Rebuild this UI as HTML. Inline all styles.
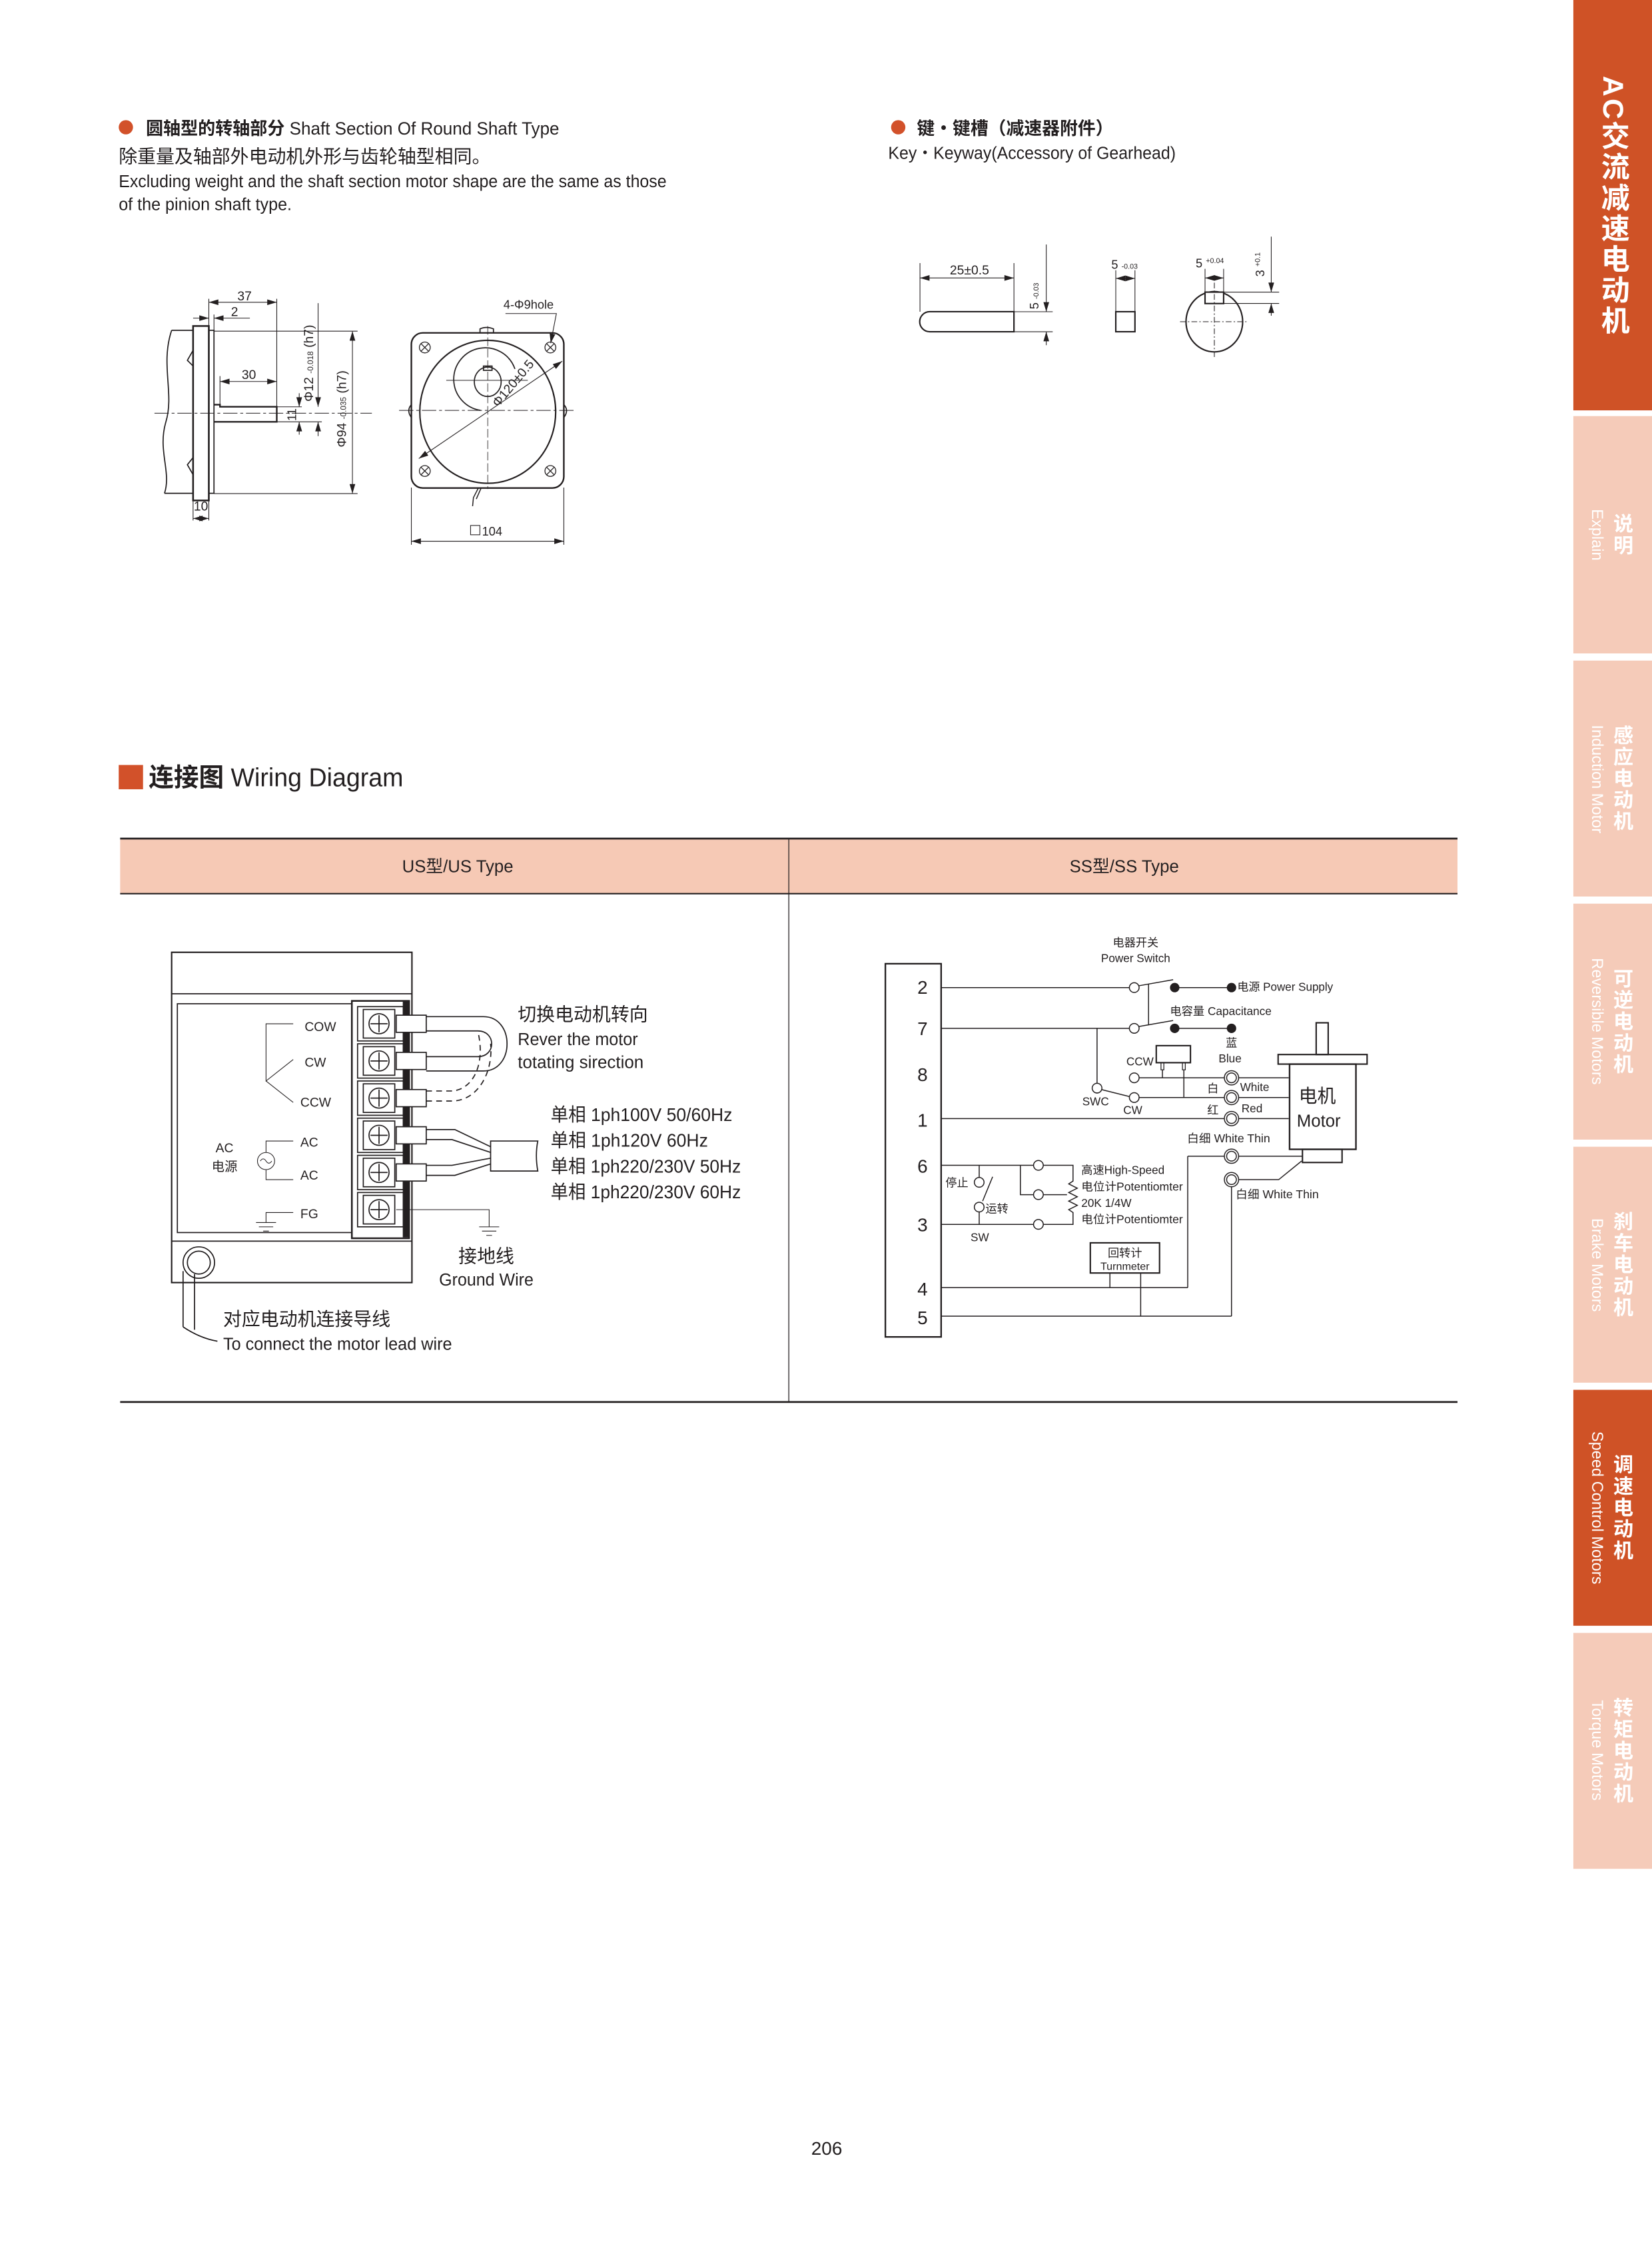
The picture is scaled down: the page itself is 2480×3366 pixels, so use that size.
<!DOCTYPE html>
<html><head><meta charset="utf-8">
<style>
html,body{margin:0;padding:0;background:#fff;}
body{width:2480px;height:3366px;overflow:hidden;position:relative;}
#pg{position:absolute;left:0;top:0;width:1155px;height:1568px;transform:scale(2.1472,2.1467);transform-origin:0 0;
font-family:"Liberation Sans Narrow","Liberation Sans","Noto Sans CJK SC",sans-serif;}
svg text{font-family:"Liberation Sans Narrow","Liberation Sans","Noto Sans CJK SC",sans-serif;fill:#231f20;}
.tab{position:absolute;left:1100px;width:55px;background:#f5cbb9;display:flex;justify-content:center;align-items:center;flex-direction:row-reverse;gap:3px;}
.tab.on{background:#cf5226;}
.zh{writing-mode:vertical-rl;color:#fff;font-weight:bold;font-size:14px;font-family:"Liberation Sans","Noto Sans CJK SC",sans-serif;letter-spacing:1px;}
.en{writing-mode:vertical-rl;color:#fff;font-size:11px;font-family:"Liberation Sans",sans-serif;}
</style></head><body><div id="pg">
<svg width="1155" height="1568" viewBox="0 0 1155 1568" style="position:absolute;left:0;top:0">
<defs>
<marker id="a" viewBox="0 0 10 6" refX="10" refY="3" markerWidth="7" markerHeight="4" orient="auto-start-reverse" markerUnits="userSpaceOnUse"><path d="M0,0L10,3L0,6z" fill="#231f20"/></marker>
</defs>
<circle cx="88" cy="89" r="5" fill="#d2512a"/>
<circle cx="628" cy="89" r="5" fill="#d2512a"/>
<text x="102" y="94" font-size="12.5" textLength="289" lengthAdjust="spacingAndGlyphs"><tspan font-weight="bold" font-family="Liberation Sans,Noto Sans CJK SC,sans-serif">圆轴型的转轴部分</tspan> Shaft Section Of Round Shaft Type</text>
<text x="83" y="114" font-size="13">除重量及轴部外电动机外形与齿轮轴型相同。</text>
<text x="83" y="131" font-size="12" textLength="383" lengthAdjust="spacingAndGlyphs">Excluding weight and the shaft section motor shape are the same as those</text>
<text x="83" y="147" font-size="12" textLength="121" lengthAdjust="spacingAndGlyphs">of the pinion shaft type.</text>
<text x="641" y="94" font-size="12.5" font-weight="bold" font-family="Liberation Sans,Noto Sans CJK SC,sans-serif">键・键槽（减速器附件）</text>
<text x="621" y="111" font-size="12" textLength="201" lengthAdjust="spacingAndGlyphs">Key・Keyway(Accessory of Gearhead)</text>

<g stroke="#231f20" fill="none" stroke-width="0.8">
<path d="M120,231 L135,231 M115,345 L135,345 M120,231 C112,255 122,275 116,295 C110,315 120,330 115,345"/>
<rect x="135" y="228" width="11" height="122" stroke-width="1.2"/>
<rect x="146" y="231" width="3.6" height="114"/>
<path d="M135,245 L131,252 L135,256 M135,320 L131,325 L135,332"/>
<path d="M149.6,283 L153.8,283 L153.8,284.5 L193.5,284.5 L193.5,295 L149.6,295" stroke-width="1.1"/>
<path d="M108,289 L260,289" stroke-dasharray="10,2,2,2" stroke-width="0.5"/>
<path d="M146,209 L146,228 M149.6,220 L149.6,231 M193.5,209 L193.5,284 M153.8,263 L153.8,283" stroke-width="0.5"/>
<path d="M146,211.4 L193.5,211.4" marker-start="url(#a)" marker-end="url(#a)" stroke-width="0.5"/>
<path d="M135,222.5 L146,222.5" marker-end="url(#a)" stroke-width="0.5"/>
<path d="M174.7,222.5 L149.6,222.5" marker-end="url(#a)" stroke-width="0.5"/>
<path d="M153.8,266.8 L193.5,266.8" marker-start="url(#a)" marker-end="url(#a)" stroke-width="0.5"/>
<path d="M193.5,284.5 L211,284.5 M193.5,295 L225,295" stroke-width="0.5"/>
<path d="M209.2,275 L209.2,284.5" marker-end="url(#a)" stroke-width="0.5"/>
<path d="M209.2,304 L209.2,295" marker-end="url(#a)" stroke-width="0.5"/>
<path d="M222.4,212 L222.4,284.5" marker-end="url(#a)" stroke-width="0.5"/>
<path d="M222.4,305 L222.4,295" marker-end="url(#a)" stroke-width="0.5"/>
<path d="M149.6,231.6 L250,231.6 M149.6,345.2 L250,345.2" stroke-width="0.5"/>
<path d="M246.4,231.6 L246.4,345.2" marker-start="url(#a)" marker-end="url(#a)" stroke-width="0.5"/>
<path d="M135,350 L135,364 M146,350 L146,364" stroke-width="0.5"/>
<path d="M135,362.6 L146,362.6" marker-start="url(#a)" marker-end="url(#a)" stroke-width="0.5"/>
</g>
<text x="171" y="210" font-size="9" text-anchor="middle">37</text>
<text x="164" y="221" font-size="9" text-anchor="middle">2</text>
<text x="174" y="265" font-size="9" text-anchor="middle">30</text>
<text x="140.5" y="357" font-size="9" text-anchor="middle">10</text>
<text transform="translate(207,290) rotate(-90)" font-size="8.5" text-anchor="middle">11</text>
<text transform="translate(219,254) rotate(-90)" font-size="9" text-anchor="middle">Φ12 <tspan font-size="5.5">-0.018</tspan> (h7)</text>
<text transform="translate(242,286) rotate(-90)" font-size="9" text-anchor="middle">Φ94 <tspan font-size="5.5">-0.035</tspan> (h7)</text>

<g stroke="#231f20" fill="none" stroke-width="0.8">
<rect x="287.6" y="232.8" width="106.6" height="108.5" rx="8" stroke-width="1.1"/>
<path d="M335.6,232.8 L335.6,230 Q340,228 345,230 L345,232.8"/>
<path d="M287.6,283 Q284,287 287.6,292 M394.2,283 Q398,287 394.2,292"/>
<ellipse cx="341" cy="288" rx="47.5" ry="50" stroke-width="1"/>
<path d="M336,287 A22,22 0 1 1 360,258" />
<ellipse cx="341" cy="267" rx="9.4" ry="10.3"/>
<rect x="338" y="256" width="6" height="3"/>
<path d="M312,266 L369,266" stroke-width="0.5"/>
<path d="M279,287 L401,287" stroke-dasharray="10,2,2,2" stroke-width="0.5"/>
<path d="M341,228 L341,342" stroke-dasharray="6,2" stroke-width="0.4"/>
<g stroke-width="0.6">
<circle cx="297" cy="243" r="3.8"/><circle cx="384.8" cy="243" r="3.8"/>
<circle cx="297" cy="329.4" r="3.8"/><circle cx="384.8" cy="329.4" r="3.8"/>
<path d="M294.3,240.3l5.4,5.4M299.7,240.3l-5.4,5.4M382.1,240.3l5.4,5.4M387.5,240.3l-5.4,5.4M294.3,326.7l5.4,5.4M299.7,326.7l-5.4,5.4M382.1,326.7l5.4,5.4M387.5,326.7l-5.4,5.4"/>
</g>
<path d="M292.8,320.7 L393.1,252.6" marker-start="url(#a)" marker-end="url(#a)" stroke-width="0.5"/>
<path d="M353.4,219.3 L389,219.3 L385,240" marker-end="url(#a)" stroke-width="0.5"/>
<path d="M334.6,341 L331,348 L330.4,354 M336.5,341 L333,349" stroke-width="0.7"/>
<path d="M287.6,341 L287.6,381 M394.2,341 L394.2,381" stroke-width="0.5"/>
<path d="M287.6,378.5 L394.2,378.5" marker-start="url(#a)" marker-end="url(#a)" stroke-width="0.5"/>
<rect x="329" y="367.5" width="6.5" height="6.5" stroke-width="0.5"/>
</g>
<text x="352" y="216" font-size="8.5">4-Φ9hole</text>
<text transform="translate(361,270) rotate(-50)" font-size="9" text-anchor="middle">Φ120±0.5</text>
<text x="337" y="374.5" font-size="8.5">104</text>

<g stroke="#231f20" fill="none" stroke-width="0.5">
<path d="M708.9,218 L650,218 A7,7 0 0 0 650,232 L708.9,232 Z" stroke-width="1"/>
<path d="M643.2,184 L643.2,218 M708.9,184 L708.9,218"/>
<path d="M643.2,194.4 L708.9,194.4" marker-start="url(#a)" marker-end="url(#a)"/>
<path d="M708.9,218 L736,218 M708.9,232 L736,232"/>
<path d="M731.5,171 L731.5,218" marker-end="url(#a)"/>
<path d="M731.5,241.4 L731.5,232" marker-end="url(#a)"/>
<rect x="780.1" y="218" width="13.4" height="14" stroke-width="1"/>
<path d="M780.1,189 L780.1,218 M793.5,189 L793.5,218"/>
<path d="M780.1,194.7 L793.5,194.7" marker-start="url(#a)" marker-end="url(#a)"/>
<ellipse cx="849" cy="225" rx="19.8" ry="21.1" stroke-width="1"/>
<rect x="842.5" y="204.3" width="13" height="8" stroke-width="1" fill="#fff"/>
<path d="M825,225 L872,225 M849,197.7 L849,250.5" stroke-dasharray="4,1.5,1,1.5"/>
<path d="M842.5,188 L842.5,204 M855.5,188 L855.5,204"/>
<path d="M842.5,194.4 L855.5,194.4" marker-start="url(#a)" marker-end="url(#a)"/>
<path d="M855.5,204.3 L894.3,204.3 M855.5,212.2 L894.3,212.2"/>
<path d="M888.8,165.5 L888.8,204.3" marker-end="url(#a)"/>
<path d="M888.8,220.8 L888.8,212.2" marker-end="url(#a)"/>
</g>
<text x="677.8" y="192" font-size="9" text-anchor="middle">25±0.5</text>
<text transform="translate(726,207) rotate(-90)" font-size="8.5" text-anchor="middle">5 <tspan font-size="5">-0.03</tspan></text>
<text x="777" y="188" font-size="8.5">5 <tspan font-size="5">-0.03</tspan></text>
<text x="836" y="187" font-size="8.5">5 <tspan font-size="5" dy="-3">+0.04</tspan></text>
<text transform="translate(884,185) rotate(-90)" font-size="8.5" text-anchor="middle">3 <tspan font-size="5" dy="-3">+0.1</tspan></text>

<rect x="83" y="535" width="17" height="17" fill="#d2512a"/>
<text x="104" y="550" font-size="18" textLength="178" lengthAdjust="spacingAndGlyphs"><tspan font-weight="bold" font-family="Liberation Sans,Noto Sans CJK SC,sans-serif">连接图</tspan> Wiring Diagram</text>
<rect x="84" y="587" width="935" height="38" fill="#f6c9b5"/>
<g stroke="#231f20" fill="none">
<path d="M84,586.5 L1019,586.5" stroke-width="1.3"/>
<path d="M84,625 L1019,625" stroke-width="1"/>
<path d="M84,980.5 L1019,980.5" stroke-width="1.3"/>
<path d="M551.5,587 L551.5,980" stroke-width="0.6"/>
</g>
<text x="320" y="610" font-size="12" text-anchor="middle">US型/US Type</text>
<text x="786" y="610" font-size="12" text-anchor="middle">SS型/SS Type</text>

<g stroke="#231f20" fill="none" stroke-width="0.8">
<rect x="120" y="666" width="168" height="231" stroke-width="1"/>
<path d="M120,695 L288,695 M120,868 L288,868"/>
<rect x="124" y="702" width="122" height="160"/>
<rect x="246" y="700" width="40" height="166" stroke-width="1.2"/>
<rect x="282" y="701" width="4" height="164" fill="#231f20"/>
<path d="M205,716 L186,716 L186,756 L205,741 M186,756 L205,771" stroke-width="0.5"/>
<path d="M205,798 L186,798 L186,806 M186,818 L186,825 L205,825" stroke-width="0.5"/>
<circle cx="186" cy="812" r="6" stroke-width="0.5"/>
<path d="M182,812 q2,-3 4,0 q2,3 4,0" stroke-width="0.5"/>
<path d="M205,848 L186,848 L186,855 M179,855 L193,855 M181,858 L191,858 M184,861 L188,861" stroke-width="0.5"/>
<path d="M298,711 L338,711 C360,711 360,749 338,749 L298,749"/>
<path d="M298,721 L334,721 C347,721 347,739 334,739 L298,739"/>
<path d="M298,763 L315,763 C330,763 340,745 334,721 M298,770 L316,770 C334,770 345,750 343,730" stroke-dasharray="4,3"/>
<path d="M298,790 L318,790 L343,802 M298,797 L316,797 L343,806 M298,815 L316,815 L343,810 M298,822 L318,822 L343,814"/>
<path d="M343,798 L376,798 Q374,808 376,819 L343,819 Z"/>
<path d="M277,846 L342,846 L342,858 M335,858 L349,858 M337,861 L347,861 M340,864 L344,864" stroke-width="0.5"/>
<circle cx="139" cy="883" r="11"/>
<circle cx="139" cy="883" r="8"/>
<path d="M128,889 L128,928 M136,891 L136,930 M128,928 Q140,936 152,938"/>
</g>
<g stroke="#231f20" fill="none" stroke-width="0.8">
<g transform="translate(0,716)"><rect x="250" y="-12" width="32" height="24"/><rect x="254" y="-10" width="22" height="20"/><circle cx="265" cy="0" r="7"/><path d="M259,0h12M265,-6v12"/><rect x="277" y="-6" width="21" height="12" fill="#fff"/></g>
<g transform="translate(0,742)"><rect x="250" y="-12" width="32" height="24"/><rect x="254" y="-10" width="22" height="20"/><circle cx="265" cy="0" r="7"/><path d="M259,0h12M265,-6v12"/><rect x="277" y="-6" width="21" height="12" fill="#fff"/></g>
<g transform="translate(0,768)"><rect x="250" y="-12" width="32" height="24"/><rect x="254" y="-10" width="22" height="20"/><circle cx="265" cy="0" r="7"/><path d="M259,0h12M265,-6v12"/><rect x="277" y="-6" width="21" height="12" fill="#fff"/></g>
<g transform="translate(0,794)"><rect x="250" y="-12" width="32" height="24"/><rect x="254" y="-10" width="22" height="20"/><circle cx="265" cy="0" r="7"/><path d="M259,0h12M265,-6v12"/><rect x="277" y="-6" width="21" height="12" fill="#fff"/></g>
<g transform="translate(0,820)"><rect x="250" y="-12" width="32" height="24"/><rect x="254" y="-10" width="22" height="20"/><circle cx="265" cy="0" r="7"/><path d="M259,0h12M265,-6v12"/><rect x="277" y="-6" width="21" height="12" fill="#fff"/></g>
<g transform="translate(0,846)"><rect x="250" y="-12" width="32" height="24"/><rect x="254" y="-10" width="22" height="20"/><circle cx="265" cy="0" r="7"/><path d="M259,0h12M265,-6v12"/></g>
</g>
<g font-size="9">
<text x="213" y="721">COW</text><text x="213" y="746">CW</text><text x="210" y="774">CCW</text>
<text x="210" y="802">AC</text><text x="210" y="825">AC</text><text x="210" y="852">FG</text>
<text x="157" y="806" text-anchor="middle">AC</text><text x="157" y="819" text-anchor="middle">电源</text>
</g>
<g font-size="13">
<text x="362" y="714">切换电动机转向</text>
<text x="362" y="731" font-size="12" textLength="84" lengthAdjust="spacingAndGlyphs">Rever the motor</text>
<text x="362" y="747" font-size="12" textLength="88" lengthAdjust="spacingAndGlyphs">totating sirection</text>
<text x="385" y="784" textLength="127" lengthAdjust="spacingAndGlyphs">单相 1ph100V  50/60Hz</text>
<text x="385" y="802" textLength="110" lengthAdjust="spacingAndGlyphs">单相 1ph120V  60Hz</text>
<text x="385" y="820" textLength="133" lengthAdjust="spacingAndGlyphs">单相 1ph220/230V  50Hz</text>
<text x="385" y="838" textLength="133" lengthAdjust="spacingAndGlyphs">单相 1ph220/230V  60Hz</text>
<text x="340" y="883" text-anchor="middle">接地线</text>
<text x="340" y="899" text-anchor="middle" font-size="12" textLength="66" lengthAdjust="spacingAndGlyphs">Ground Wire</text>
<text x="156" y="927">对应电动机连接导线</text>
<text x="156" y="944" font-size="12" textLength="160" lengthAdjust="spacingAndGlyphs">To connect the motor lead wire</text>
</g>

<g stroke="#231f20" fill="none" stroke-width="0.7">
<rect x="619" y="674" width="39" height="261" stroke-width="1.1"/>
<path d="M658,690.7 L789.5,690.7 M796.3,689.4 L820.2,685.2 M821,690.7 L861,690.7"/>
<path d="M658,719.2 L789.5,719.2 M796.3,717.9 L820.2,713.7 M821,719.2 L861,719.2"/>
<path d="M803,688 L803,717"/>
<circle cx="793" cy="690.7" r="3.4" fill="#fff"/><circle cx="793" cy="719.2" r="3.4" fill="#fff"/>
<path d="M767,719.2 L767,757.5"/>
<circle cx="767" cy="761" r="3.4" fill="#fff"/>
<path d="M770,762 L790,767"/>
<path d="M796.4,753.8 L901,753.8 M796.4,767.6 L901,767.6 M658,782.3 L901,782.3"/>
<circle cx="793" cy="753.8" r="3.4" fill="#fff"/><circle cx="793" cy="767.6" r="3.4" fill="#fff"/>
<rect x="808.4" y="731.3" width="23.9" height="11.9" stroke-width="1"/>
<rect x="811.7" y="743.2" width="2" height="5" stroke-width="0.6"/><rect x="826.7" y="743.2" width="2" height="5" stroke-width="0.6"/>
<path d="M812.7,748 L812.7,753.8 M827.7,748 L827.7,767.6"/>
<rect x="920.2" y="715.3" width="8.4" height="22.2" stroke-width="1"/>
<rect x="893.6" y="737.5" width="62.2" height="6.7" stroke-width="1"/>
<rect x="901.6" y="744.2" width="46.4" height="59.6" stroke-width="1.1"/>
<rect x="910.6" y="803.8" width="27.7" height="9.2" stroke-width="1"/>
<path d="M830.4,808.6 L910.6,808.6 M830.4,808.6 L830.4,900.5 M658,900.5 L830.4,900.5"/>
<path d="M861,825 L894,825 L910,812 M861,825 L861,920.5 M658,920.5 L861,920.5"/>
<g fill="#fff">
<circle cx="861" cy="753.8" r="5"/><circle cx="861" cy="767.6" r="5"/><circle cx="861" cy="782.3" r="5"/><circle cx="861" cy="808.6" r="5"/><circle cx="861" cy="825" r="5"/>
</g>
<circle cx="861" cy="753.8" r="3.4"/><circle cx="861" cy="767.6" r="3.4"/><circle cx="861" cy="782.3" r="3.4"/><circle cx="861" cy="808.6" r="3.4"/><circle cx="861" cy="825" r="3.4"/>
<path d="M658,815 L722.6,815 M729.4,815 L750.2,815 L750.2,826 l-3,2 l6,3 l-6,3 l6,3 l-6,3 l6,3 l-6,3 l3,2 L750.2,856.3 L729.4,856.3 M722.6,856.3 L658,856.3"/>
<path d="M713.4,815 L713.4,835.5 L722.6,835.5 M729.4,835.5 L746,835.5" />
<circle cx="726" cy="815" r="3.4" fill="#fff"/><circle cx="726" cy="835.5" r="3.4" fill="#fff"/><circle cx="726" cy="856.3" r="3.4" fill="#fff"/>
<path d="M684.6,815 L684.6,823.5 M684.6,847.6 L684.6,856.3 M694,823 L687,840"/>
<circle cx="684.6" cy="826.9" r="3.4" fill="#fff"/><circle cx="684.6" cy="844.2" r="3.4" fill="#fff"/>
<rect x="762.3" y="869.2" width="48.4" height="21.1" stroke-width="1"/>
<path d="M776,890.3 L776,900.5 M797.5,890.3 L797.5,920.5"/>
</g>
<g fill="#231f20"><circle cx="821.3" cy="690.7" r="3.3"/><circle cx="861" cy="690.7" r="3.3"/><circle cx="821.3" cy="719.2" r="3.3"/><circle cx="861" cy="719.2" r="3.3"/></g>
<g font-size="13" text-anchor="middle">
<text x="645" y="695">2</text><text x="645" y="724">7</text><text x="645" y="756">8</text><text x="645" y="788">1</text>
<text x="645" y="820">6</text><text x="645" y="861">3</text><text x="645" y="906">4</text><text x="645" y="926">5</text>
</g>
<g font-size="8">
<text x="794" y="662" text-anchor="middle">电器开关</text>
<text x="794" y="673" text-anchor="middle">Power Switch</text>
<text x="865" y="693" textLength="67" lengthAdjust="spacingAndGlyphs">电源 Power Supply</text>
<text x="818" y="710" textLength="71" lengthAdjust="spacingAndGlyphs">电容量 Capacitance</text>
<text x="797" y="745" text-anchor="middle">CCW</text>
<text x="861" y="732" text-anchor="middle">蓝</text>
<text x="860" y="743" text-anchor="middle">Blue</text>
<text x="848" y="764" text-anchor="middle">白</text><text x="867" y="763">White</text>
<text x="848" y="779" text-anchor="middle">红</text><text x="868" y="778">Red</text>
<text x="766" y="773" text-anchor="middle">SWC</text>
<text x="792" y="779" text-anchor="middle">CW</text>
<text x="830" y="799" textLength="58" lengthAdjust="spacingAndGlyphs">白细 White Thin</text>
<text x="864" y="838" textLength="58" lengthAdjust="spacingAndGlyphs">白细 White Thin</text>
<text x="756" y="821">高速High-Speed</text>
<text x="756" y="832.7" textLength="71" lengthAdjust="spacingAndGlyphs">电位计Potentiomter</text>
<text x="756" y="844">20K  1/4W</text>
<text x="756" y="855.5" textLength="71" lengthAdjust="spacingAndGlyphs">电位计Potentiomter</text>
<text x="661" y="830">停止</text>
<text x="689" y="848">运转</text>
<text x="685" y="868" text-anchor="middle">SW</text>
<text x="786.5" y="879" text-anchor="middle">回转计</text>
<text x="786.5" y="888" text-anchor="middle" font-size="7.5">Turnmeter</text>
</g>
<text x="921" y="771" font-size="13" text-anchor="middle">电机</text>
<text x="922" y="788" font-size="12" text-anchor="middle">Motor</text>

<text x="578" y="1507" font-size="13" text-anchor="middle">206</text>
</svg>

<div class="tab on" style="top:0;height:287px;align-items:flex-start"><div class="zh" style="font-size:20px;margin-top:53px;letter-spacing:1.5px">AC交流减速电动机</div></div>
<div class="tab" style="top:291px;height:166px"><div class="zh">说明</div><div class="en">Explain</div></div>
<div class="tab" style="top:462px;height:165px"><div class="zh">感应电动机</div><div class="en">Induction Motor</div></div>
<div class="tab" style="top:632px;height:165px"><div class="zh">可逆电动机</div><div class="en">Reversible Motors</div></div>
<div class="tab" style="top:802px;height:165px"><div class="zh">刹车电动机</div><div class="en">Brake Motors</div></div>
<div class="tab on" style="top:972px;height:165px"><div class="zh">调速电动机</div><div class="en">Speed Control Motors</div></div>
<div class="tab" style="top:1142px;height:165px"><div class="zh">转矩电动机</div><div class="en">Torque Motors</div></div>
</div></body></html>
